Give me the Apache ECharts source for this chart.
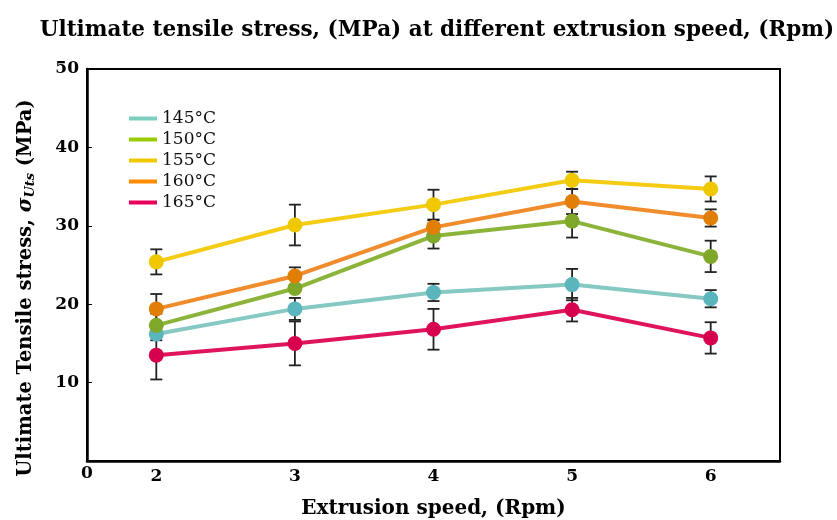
<!DOCTYPE html>
<html>
<head>
<meta charset="utf-8">
<script src="https://cdn.jsdelivr.net/npm/echarts@6/dist/echarts.min.js"></script>
<style>
  html, body { margin: 0; padding: 0; background: #fff; }
  #main { width: 837px; height: 520px; }
</style>
</head>
<body>
<div id="main"></div>
<script>
// extrusion speed (Rpm)
var speeds = ['2', '3', '4', '5', '6'];
var yTicks = [0, 10, 20, 30, 40, 50];

// mean UTS (MPa) and error (+/-) per barrel temperature
var uts145 = [16.2, 19.4, 21.5, 22.5, 20.7];
var err145 = [0.8, 1.4, 1.1, 2.0, 1.1];
var uts150 = [17.3, 22.0, 28.7, 30.6, 26.1];
var err150 = [1.5, 0.3, 1.6, 2.1, 2.0];
var uts155 = [25.4, 30.1, 32.7, 35.8, 34.7];
var err155 = [1.6, 2.6, 1.9, 1.1, 1.6];
var uts160 = [19.4, 23.6, 29.8, 33.1, 31.0];
var err160 = [1.9, 1.1, 0.9, 1.6, 1.1];
var uts165 = [13.5, 15.0, 16.8, 19.3, 15.7];
var err165 = [3.1, 2.8, 2.6, 1.5, 2.0];

var temps = [
    {name: '145°C', data: uts145, err: err145, line: '#86c9c3', dot: '#5bb5bd', key: '#7ccfc0'},
    {name: '150°C', data: uts150, err: err150, line: '#8cb43a', dot: '#7fa82a', key: '#99cc00'},
    {name: '155°C', data: uts155, err: err155, line: '#f4cc14', dot: '#f0c800', key: '#f0c800'},
    {name: '160°C', data: uts160, err: err160, line: '#f08c2c', dot: '#e07e05', key: '#ff8c00'},
    {name: '165°C', data: uts165, err: err165, line: '#e0145c', dot: '#d6004f', key: '#e8005a'}
];

var serif = 'DejaVu Serif';

function errorBar(params, api) {
    var x = api.value(0);
    var lo = api.coord([x, api.value(1)]);
    var hi = api.coord([x, api.value(2)]);
    var hw = 6;
    var st = {stroke: '#222', lineWidth: 1.8};
    return {
        type: 'group',
        children: [
            {type: 'line', shape: {x1: lo[0], y1: lo[1], x2: hi[0], y2: hi[1]}, style: st},
            {type: 'line', shape: {x1: lo[0] - hw, y1: lo[1], x2: lo[0] + hw, y2: lo[1]}, style: st},
            {type: 'line', shape: {x1: hi[0] - hw, y1: hi[1], x2: hi[0] + hw, y2: hi[1]}, style: st}
        ]
    };
}

var series = [];
temps.forEach(function (t) {
    series.push({
        name: t.name + ' err',
        type: 'custom',
        renderItem: errorBar,
        z: 1,
        data: t.data.map(function (v, i) { return [i, v - t.err[i], v + t.err[i]]; })
    });
});
temps.forEach(function (t) {
    series.push({
        name: t.name,
        type: 'line',
        z: 3,
        data: t.data,
        symbol: 'circle',
        symbolSize: 15,
        lineStyle: {color: t.line, width: 4},
        itemStyle: {color: t.dot},
        emphasis: {disabled: true}
    });
});

var myChart = echarts.init(document.getElementById('main'));
var option = {
    animation: false,
    title: {
        text: 'Ultimate tensile stress, (MPa) at different extrusion speed, (Rpm)',
        left: 432,
        top: 14,
        textAlign: 'center',
        textStyle: {fontFamily: serif, fontWeight: 'bold', fontSize: 21.5, color: '#000'}
    },
    legend: {
        orient: 'vertical',
        left: 124,
        top: 104,
        icon: 'rect',
        itemWidth: 28,
        itemHeight: 4,
        itemGap: 2,
        textStyle: {fontFamily: serif, fontSize: 17, color: '#111', lineHeight: 19},
        data: temps.map(function (t) {
            return {name: t.name, itemStyle: {color: t.key}};
        })
    },
    grid: {
        left: 87,
        right: 57,
        top: 69,
        bottom: 59,
        outerBoundsMode: 'none',
        show: true,
        borderColor: '#000',
        borderWidth: 2
    },
    xAxis: {
        type: 'category',
        data: speeds,
        name: 'Extrusion speed, (Rpm)',
        nameLocation: 'middle',
        nameGap: 38,
        nameTextStyle: {fontFamily: serif, fontWeight: 'bold', fontSize: 20, color: '#000'},
        axisLine: {lineStyle: {color: '#000', width: 2.5}},
        axisTick: {inside: true, alignWithLabel: true, length: 5, lineStyle: {color: '#000'}},
        axisLabel: {fontFamily: serif, fontWeight: 'bold', fontSize: 17, color: '#000', margin: 7},
        splitLine: {show: false}
    },
    yAxis: {
        type: 'value',
        min: yTicks[0],
        max: yTicks[yTicks.length - 1],
        interval: 10,
        name: '{a|Ultimate Tensile stress, }{s|σ}{sub|Uts}{a| (MPa)}',
        nameLocation: 'middle',
        nameGap: 50,
        nameTextStyle: {
            fontFamily: serif, fontWeight: 'bold', fontSize: 19.5, color: '#000',
            padding: [0, 46, 0, 0],
            rich: {
                a: {fontFamily: serif, fontWeight: 'bold', fontSize: 19.5, color: '#000'},
                s: {fontFamily: serif, fontStyle: 'italic', fontSize: 20, color: '#000'},
                sub: {fontFamily: serif, fontStyle: 'italic', fontSize: 13, color: '#000', padding: [9, 0, 0, 0]}
            }
        },
        axisLine: {show: true, lineStyle: {color: '#000', width: 2.5}},
        axisTick: {show: true, inside: true, length: 5, lineStyle: {color: '#000'}},
        axisLabel: {
            fontFamily: serif, fontWeight: 'bold', fontSize: 17, color: '#000', margin: 8,
            formatter: function (v) { return v === 0 ? '' : String(v); }
        },
        splitLine: {show: false}
    },
    graphic: [{
        type: 'text',
        left: 81,
        top: 465,
        style: {text: '0', fontFamily: serif, fontWeight: 'bold', fontSize: 17, fill: '#000'}
    }],
    series: series
};
myChart.setOption(option);
</script>
</body>
</html>
